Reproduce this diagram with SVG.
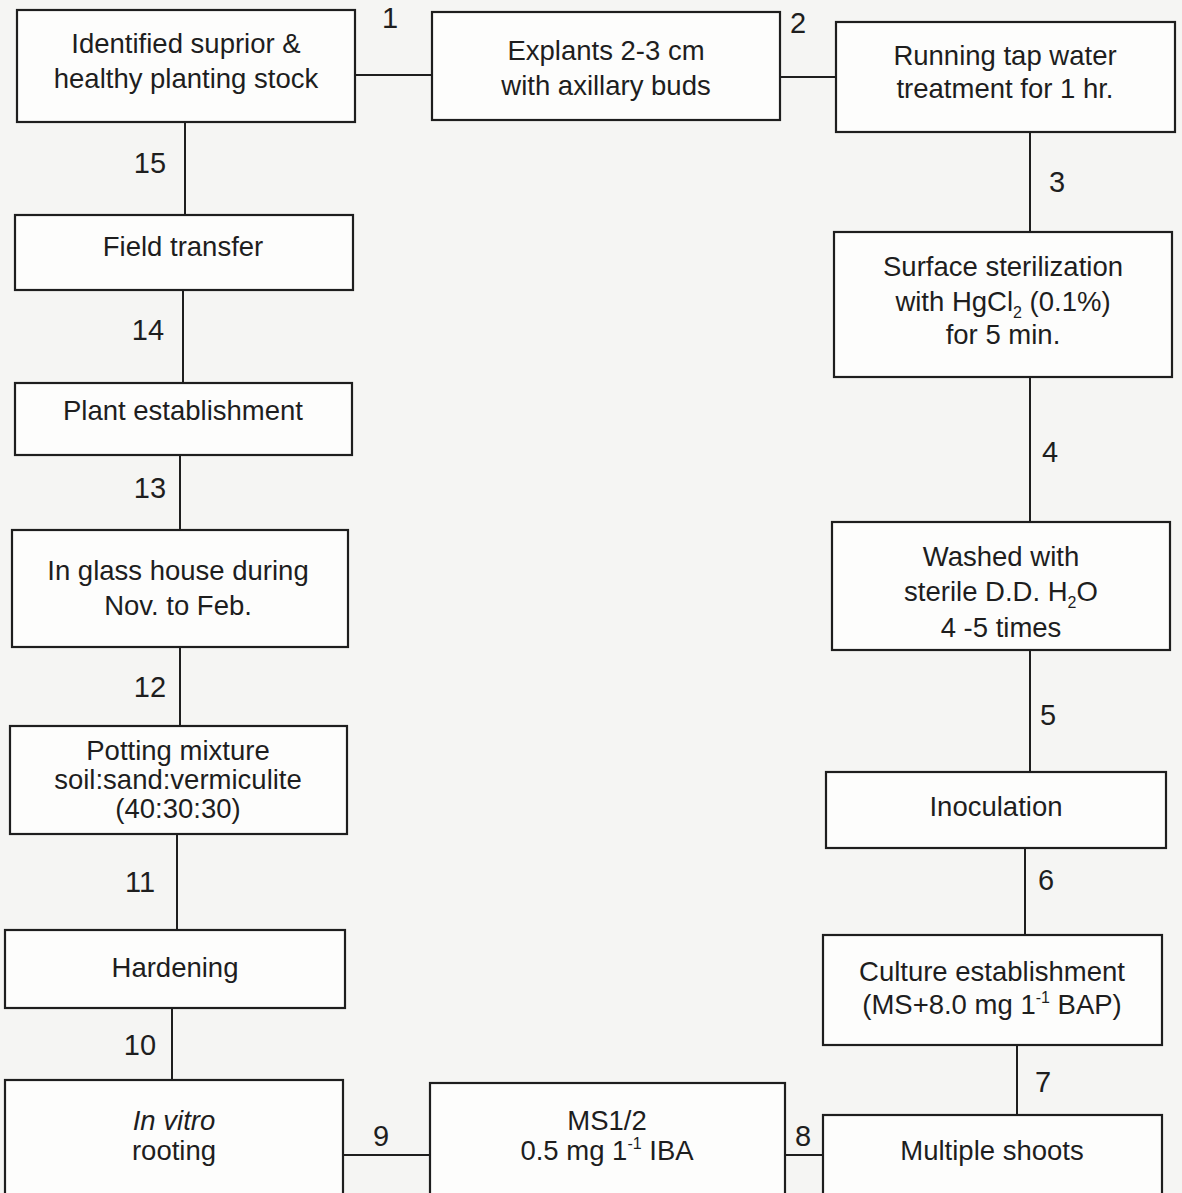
<svg xmlns="http://www.w3.org/2000/svg" width="1182" height="1193" viewBox="0 0 1182 1193">
<style>
.box{fill:#fdfdfc;stroke:#1e1e1e;stroke-width:2.2}
.t{font-family:"Liberation Sans",Arial,sans-serif;font-size:27.5px;fill:#1e1e1e;text-anchor:middle}
.n{font-family:"Liberation Sans",Arial,sans-serif;font-size:29px;fill:#1e1e1e;text-anchor:middle}
.c{stroke:#1e1e1e;stroke-width:2;fill:none}
.sub{font-size:16px}
</style>
<rect width="1182" height="1193" fill="#f5f5f3"/>
<g id="connectors">
<path class="c" d="M355 75H432"/>
<path class="c" d="M780 77H836"/>
<path class="c" d="M1030 132V232"/>
<path class="c" d="M1030 377V522"/>
<path class="c" d="M1030 650V772"/>
<path class="c" d="M1025 848V935"/>
<path class="c" d="M1017 1045V1115"/>
<path class="c" d="M785 1155H823"/>
<path class="c" d="M343 1155H430"/>
<path class="c" d="M172 1008V1080"/>
<path class="c" d="M177 834V930"/>
<path class="c" d="M180 647V726"/>
<path class="c" d="M180 455V530"/>
<path class="c" d="M183 290V383"/>
<path class="c" d="M185 122V215"/>
</g>
<g id="labels">
<text class="n" x="390" y="28">1</text>
<text class="n" x="798" y="33">2</text>
<text class="n" x="1057" y="192">3</text>
<text class="n" x="1050" y="462">4</text>
<text class="n" x="1048" y="725">5</text>
<text class="n" x="1046" y="890">6</text>
<text class="n" x="1043" y="1092">7</text>
<text class="n" x="803" y="1146">8</text>
<text class="n" x="381" y="1146">9</text>
<text class="n" x="140" y="1055">10</text>
<text class="n" x="140" y="892">11</text>
<text class="n" x="150" y="697">12</text>
<text class="n" x="150" y="498">13</text>
<text class="n" x="148" y="340">14</text>
<text class="n" x="150" y="173">15</text>
</g>
<g id="n1"><rect class="box" x="17" y="10" width="338" height="112"/>
<text class="t" x="186" y="53">Identified suprior &amp;</text>
<text class="t" x="186" y="88">healthy planting stock</text></g>
<g id="n2"><rect class="box" x="432" y="12" width="348" height="108"/>
<text class="t" x="606" y="60">Explants 2-3 cm</text>
<text class="t" x="606" y="95">with axillary buds</text></g>
<g id="n3"><rect class="box" x="836" y="22" width="339" height="110"/>
<text class="t" x="1005" y="65">Running tap water</text>
<text class="t" x="1005" y="98">treatment for 1 hr.</text></g>
<g id="n4"><rect class="box" x="834" y="232" width="338" height="145"/>
<text class="t" x="1003" y="276">Surface sterilization</text>
<text class="t" x="1003" y="311">with HgCl<tspan class="sub" dy="7">2</tspan><tspan dy="-7"> (0.1%)</tspan></text>
<text class="t" x="1003" y="344">for 5 min.</text></g>
<g id="n5"><rect class="box" x="832" y="522" width="338" height="128"/>
<text class="t" x="1001" y="566">Washed with</text>
<text class="t" x="1001" y="601">sterile D.D. H<tspan class="sub" dy="7">2</tspan><tspan dy="-7">O</tspan></text>
<text class="t" x="1001" y="637">4 -5 times</text></g>
<g id="n6"><rect class="box" x="826" y="772" width="340" height="76"/>
<text class="t" x="996" y="816">Inoculation</text></g>
<g id="n7"><rect class="box" x="823" y="935" width="339" height="110"/>
<text class="t" x="992" y="981">Culture establishment</text>
<text class="t" x="992" y="1014">(MS+8.0 mg 1<tspan class="sub" dy="-11">-1</tspan><tspan dy="11"> BAP)</tspan></text></g>
<g id="n8"><rect class="box" x="823" y="1115" width="339" height="90"/>
<text class="t" x="992" y="1160">Multiple shoots</text></g>
<g id="n9"><rect class="box" x="430" y="1083" width="355" height="120"/>
<text class="t" x="607" y="1130">MS1/2</text>
<text class="t" x="607" y="1160">0.5 mg 1<tspan class="sub" dy="-11">-1</tspan><tspan dy="11"> IBA</tspan></text></g>
<g id="n10"><rect class="box" x="5" y="1080" width="338" height="123"/>
<text class="t" x="174" y="1130" font-style="italic">In vitro</text>
<text class="t" x="174" y="1160">rooting</text></g>
<g id="n11"><rect class="box" x="5" y="930" width="340" height="78"/>
<text class="t" x="175" y="977">Hardening</text></g>
<g id="n12"><rect class="box" x="10" y="726" width="337" height="108"/>
<text class="t" x="178" y="760">Potting mixture</text>
<text class="t" x="178" y="789">soil:sand:vermiculite</text>
<text class="t" x="178" y="818">(40:30:30)</text></g>
<g id="n13"><rect class="box" x="12" y="530" width="336" height="117"/>
<text class="t" x="178" y="580">In glass house during</text>
<text class="t" x="178" y="615">Nov. to Feb.</text></g>
<g id="n14"><rect class="box" x="15" y="383" width="337" height="72"/>
<text class="t" x="183" y="420">Plant establishment</text></g>
<g id="n15"><rect class="box" x="15" y="215" width="338" height="75"/>
<text class="t" x="183" y="256">Field transfer</text></g>
</svg>
